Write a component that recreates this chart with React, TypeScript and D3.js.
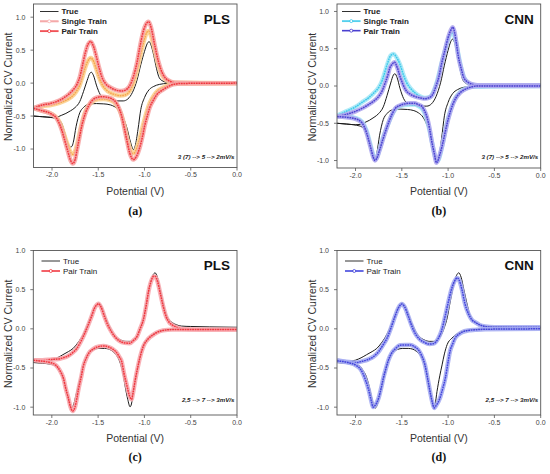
import * as d3 from 'd3';

type Pt = [number, number];

// ---- experiment "3 (7) --> 5 --> 2mV/s" (panels a, b) ----
const true2mV_up: Pt[] = [
  [-2.2, -0.5], [-2.1, -0.51], [-2.0, -0.52], [-1.95, -0.515], [-1.9, -0.49], [-1.85, -0.46],
  [-1.8, -0.42], [-1.75, -0.37], [-1.7, -0.28], [-1.66, -0.13], [-1.62, 0.04], [-1.59, 0.15],
  [-1.575, 0.165], [-1.55, 0.11], [-1.52, -0.03], [-1.48, -0.17], [-1.43, -0.24], [-1.37, -0.26],
  [-1.3, -0.27], [-1.23, -0.27], [-1.18, -0.24], [-1.13, -0.14], [-1.08, 0.05], [-1.04, 0.28],
  [-1.0, 0.48], [-0.97, 0.6], [-0.95, 0.63], [-0.93, 0.58], [-0.9, 0.42], [-0.87, 0.22],
  [-0.84, 0.08], [-0.8, 0.03], [-0.75, 0.01], [-0.6, 0.01], [-0.3, 0.01], [0, 0.01],
];
const true2mV_down: Pt[] = [
  [-2.2, -0.5], [-2.1, -0.51], [-2.02, -0.52], [-1.96, -0.535], [-1.93, -0.55], [-1.895, -0.61],
  [-1.86, -0.76], [-1.83, -0.9], [-1.8, -0.97], [-1.785, -0.96], [-1.77, -0.9], [-1.74, -0.66],
  [-1.7, -0.45], [-1.66, -0.37], [-1.6, -0.32], [-1.52, -0.31], [-1.44, -0.315], [-1.37, -0.33],
  [-1.32, -0.36], [-1.27, -0.42], [-1.23, -0.52], [-1.19, -0.68], [-1.15, -0.9], [-1.12, -1.01],
  [-1.1, -0.95], [-1.07, -0.7], [-1.04, -0.4], [-1.0, -0.22], [-0.95, -0.1], [-0.9, -0.05],
  [-0.84, -0.02], [-0.75, -0.005], [0, 0.0],
];

const plsSingle2mV_up: Pt[] = [
  [-2.2, -0.38], [-2.1, -0.35], [-2.0, -0.33], [-1.92, -0.3], [-1.85, -0.26], [-1.79, -0.21],
  [-1.74, -0.13], [-1.7, -0.03], [-1.67, 0.1], [-1.64, 0.24], [-1.61, 0.34], [-1.58, 0.38],
  [-1.55, 0.33], [-1.52, 0.21], [-1.49, 0.08], [-1.45, -0.04], [-1.4, -0.12], [-1.33, -0.17],
  [-1.26, -0.19], [-1.21, -0.18], [-1.16, -0.12], [-1.12, 0.0], [-1.08, 0.2], [-1.04, 0.45],
  [-1.0, 0.67], [-0.97, 0.78], [-0.955, 0.79], [-0.93, 0.72], [-0.89, 0.5], [-0.85, 0.27],
  [-0.81, 0.12], [-0.77, 0.05], [-0.72, 0.02], [-0.66, 0.005], [0, 0.0],
];
const plsSingle2mV_down: Pt[] = [
  [-2.2, -0.38], [-2.1, -0.42], [-2.0, -0.47], [-1.94, -0.54], [-1.9, -0.65], [-1.86, -0.82],
  [-1.82, -0.98], [-1.79, -1.07], [-1.775, -1.08], [-1.75, -1.03], [-1.72, -0.88], [-1.69, -0.68],
  [-1.65, -0.47], [-1.61, -0.35], [-1.56, -0.28], [-1.5, -0.245], [-1.44, -0.24], [-1.38, -0.255],
  [-1.33, -0.29], [-1.29, -0.36], [-1.25, -0.48], [-1.22, -0.63], [-1.19, -0.82], [-1.16, -0.98],
  [-1.125, -1.07], [-1.1, -1.04], [-1.06, -0.88], [-1.02, -0.66], [-0.98, -0.45], [-0.94, -0.29],
  [-0.9, -0.19], [-0.86, -0.12], [-0.8, -0.07], [-0.74, -0.03], [-0.68, -0.01], [0, 0.0],
];

const plsPair2mV_up: Pt[] = [
  [-2.2, -0.38], [-2.1, -0.33], [-2.02, -0.31], [-1.95, -0.28], [-1.88, -0.23], [-1.82, -0.17],
  [-1.77, -0.1], [-1.73, -0.02], [-1.7, 0.09], [-1.67, 0.27], [-1.64, 0.46], [-1.61, 0.59],
  [-1.58, 0.63], [-1.55, 0.55], [-1.52, 0.4], [-1.49, 0.23], [-1.46, 0.09], [-1.42, -0.01],
  [-1.37, -0.065], [-1.3, -0.11], [-1.25, -0.12], [-1.2, -0.1], [-1.16, -0.04], [-1.12, 0.1],
  [-1.08, 0.32], [-1.05, 0.55], [-1.01, 0.8], [-0.97, 0.92], [-0.955, 0.93], [-0.93, 0.85],
  [-0.89, 0.58], [-0.85, 0.33], [-0.81, 0.16], [-0.77, 0.07], [-0.72, 0.025], [-0.66, 0.005],
  [-0.4, 0.0], [0, 0.0],
];
const plsPair2mV_down: Pt[] = [
  [-2.2, -0.38], [-2.13, -0.41], [-2.02, -0.46], [-1.95, -0.535], [-1.9, -0.69], [-1.86, -0.88],
  [-1.83, -1.03], [-1.8, -1.17], [-1.775, -1.22], [-1.75, -1.16], [-1.73, -1.02], [-1.7, -0.8],
  [-1.68, -0.66], [-1.64, -0.46], [-1.61, -0.36], [-1.57, -0.27], [-1.52, -0.22], [-1.46, -0.205],
  [-1.4, -0.215], [-1.35, -0.24], [-1.3, -0.31], [-1.27, -0.4], [-1.245, -0.51], [-1.22, -0.67],
  [-1.19, -0.87], [-1.16, -1.06], [-1.12, -1.16], [-1.09, -1.12], [-1.05, -0.97], [-1.02, -0.8],
  [-1.0, -0.66], [-0.97, -0.5], [-0.94, -0.36], [-0.9, -0.25], [-0.87, -0.18], [-0.8, -0.1],
  [-0.74, -0.05], [-0.69, -0.02], [-0.6, -0.005], [0, 0.0],
];

const cnnSingle2mV_up: Pt[] = [
  [-2.2, -0.4], [-2.1, -0.34], [-2.0, -0.28], [-1.93, -0.22], [-1.86, -0.16], [-1.8, -0.09],
  [-1.75, -0.02], [-1.71, 0.08], [-1.68, 0.2], [-1.65, 0.32], [-1.62, 0.41], [-1.59, 0.43],
  [-1.56, 0.39], [-1.52, 0.29], [-1.48, 0.14], [-1.45, 0.05], [-1.4, -0.04], [-1.36, -0.09],
  [-1.3, -0.14], [-1.25, -0.16], [-1.2, -0.15], [-1.16, -0.08], [-1.12, 0.06], [-1.08, 0.26],
  [-1.04, 0.45], [-1.0, 0.62], [-0.97, 0.7], [-0.95, 0.71], [-0.92, 0.62], [-0.89, 0.43],
  [-0.86, 0.25], [-0.83, 0.12], [-0.79, 0.05], [-0.74, 0.02], [-0.68, 0.01], [0, 0.01],
];
const cnnSingle2mV_down: Pt[] = [
  [-2.2, -0.4], [-2.1, -0.41], [-2.0, -0.43], [-1.93, -0.48], [-1.88, -0.6], [-1.84, -0.78],
  [-1.81, -0.92], [-1.79, -0.98], [-1.77, -0.96], [-1.74, -0.85], [-1.7, -0.68], [-1.66, -0.55],
  [-1.61, -0.4], [-1.57, -0.31], [-1.52, -0.27], [-1.47, -0.255], [-1.41, -0.25], [-1.36, -0.25],
  [-1.32, -0.27], [-1.285, -0.3], [-1.26, -0.35], [-1.23, -0.45], [-1.2, -0.6], [-1.17, -0.78],
  [-1.145, -0.93], [-1.12, -1.01], [-1.1, -0.98], [-1.07, -0.84], [-1.04, -0.66], [-1.01, -0.48],
  [-0.98, -0.35], [-0.95, -0.24], [-0.92, -0.16], [-0.87, -0.08], [-0.8, -0.03], [-0.74, -0.01],
  [0, 0.0],
];

const cnnPair2mV_up: Pt[] = [
  [-2.2, -0.41], [-2.1, -0.38], [-2.0, -0.34], [-1.93, -0.3], [-1.86, -0.25], [-1.8, -0.2],
  [-1.75, -0.14], [-1.71, -0.06], [-1.68, 0.04], [-1.65, 0.15], [-1.63, 0.24], [-1.6, 0.3],
  [-1.58, 0.32], [-1.55, 0.25], [-1.52, 0.13], [-1.49, 0.03], [-1.46, -0.05], [-1.41, -0.11],
  [-1.36, -0.14], [-1.3, -0.16], [-1.25, -0.17], [-1.2, -0.155], [-1.17, -0.12], [-1.13, 0.0],
  [-1.1, 0.12], [-1.07, 0.3], [-1.03, 0.5], [-1.0, 0.65], [-0.97, 0.75], [-0.95, 0.79],
  [-0.93, 0.72], [-0.91, 0.57], [-0.89, 0.4], [-0.86, 0.24], [-0.83, 0.11], [-0.78, 0.045],
  [-0.72, 0.018], [-0.65, 0.01], [0, 0.01],
];
const cnnPair2mV_down: Pt[] = [
  [-2.2, -0.41], [-2.1, -0.42], [-2.0, -0.44], [-1.93, -0.495], [-1.88, -0.63], [-1.84, -0.81],
  [-1.81, -0.95], [-1.79, -1.0], [-1.77, -0.97], [-1.74, -0.86], [-1.7, -0.7], [-1.66, -0.55],
  [-1.61, -0.39], [-1.57, -0.3], [-1.52, -0.26], [-1.47, -0.24], [-1.41, -0.23], [-1.36, -0.23],
  [-1.32, -0.25], [-1.285, -0.27], [-1.26, -0.32], [-1.23, -0.41], [-1.2, -0.57], [-1.18, -0.72],
  [-1.15, -0.9], [-1.125, -1.03], [-1.09, -0.92], [-1.06, -0.78], [-1.03, -0.61], [-1.0, -0.45],
  [-0.98, -0.36], [-0.95, -0.25], [-0.92, -0.17], [-0.87, -0.09], [-0.8, -0.035], [-0.75, -0.013],
  [-0.68, 0.0], [0, 0.0],
];

// ---- experiment "2,5 --> 7 --> 3mV/s" (panels c, d) ----
const true3mV_up: Pt[] = [
  [-2.2, -0.43], [-2.1, -0.42], [-2.0, -0.4], [-1.94, -0.37], [-1.88, -0.33], [-1.82, -0.29],
  [-1.77, -0.25], [-1.72, -0.18], [-1.68, -0.11], [-1.64, -0.02], [-1.6, 0.09], [-1.57, 0.18],
  [-1.54, 0.27], [-1.51, 0.32], [-1.495, 0.33], [-1.47, 0.3], [-1.44, 0.22], [-1.41, 0.12],
  [-1.38, 0.04], [-1.35, -0.035], [-1.31, -0.1], [-1.26, -0.14], [-1.2, -0.16], [-1.15, -0.16],
  [-1.11, -0.13], [-1.08, -0.09], [-1.04, 0.02], [-1.01, 0.14], [-0.98, 0.33], [-0.94, 0.56],
  [-0.91, 0.68], [-0.885, 0.715], [-0.86, 0.66], [-0.83, 0.5], [-0.8, 0.34], [-0.77, 0.2],
  [-0.73, 0.11], [-0.7, 0.08], [-0.65, 0.05], [-0.6, 0.035], [-0.5, 0.03], [-0.3, 0.025], [0, 0.02],
];
const true3mV_down: Pt[] = [
  [-2.2, -0.43], [-2.1, -0.44], [-2.02, -0.45], [-1.95, -0.48], [-1.92, -0.53], [-1.89, -0.59],
  [-1.86, -0.7], [-1.84, -0.8], [-1.81, -0.95], [-1.785, -1.01], [-1.76, -0.95], [-1.74, -0.85],
  [-1.71, -0.71], [-1.68, -0.56], [-1.66, -0.46], [-1.63, -0.37], [-1.6, -0.305], [-1.55, -0.265],
  [-1.49, -0.25], [-1.43, -0.25], [-1.38, -0.26], [-1.34, -0.29], [-1.3, -0.34], [-1.26, -0.44],
  [-1.23, -0.58], [-1.21, -0.72], [-1.18, -0.9], [-1.155, -0.995], [-1.14, -0.96], [-1.12, -0.8],
  [-1.09, -0.6], [-1.065, -0.46], [-1.04, -0.32], [-1.01, -0.2], [-0.96, -0.12], [-0.91, -0.07],
  [-0.86, -0.04], [-0.78, -0.015], [-0.7, -0.005], [0, 0.0],
];

const plsPair3mV_up: Pt[] = [
  [-2.2, -0.4], [-2.1, -0.4], [-2.0, -0.39], [-1.93, -0.385], [-1.88, -0.37], [-1.84, -0.355],
  [-1.78, -0.31], [-1.73, -0.25], [-1.69, -0.17], [-1.66, -0.1], [-1.62, 0.01], [-1.57, 0.16],
  [-1.54, 0.26], [-1.51, 0.31], [-1.495, 0.32], [-1.47, 0.28], [-1.43, 0.15], [-1.4, 0.06],
  [-1.36, -0.03], [-1.32, -0.1], [-1.27, -0.155], [-1.21, -0.18], [-1.16, -0.185], [-1.12, -0.15],
  [-1.08, -0.1], [-1.05, -0.01], [-1.01, 0.12], [-0.98, 0.3], [-0.955, 0.48], [-0.93, 0.6],
  [-0.9, 0.67], [-0.885, 0.67], [-0.86, 0.61], [-0.83, 0.46], [-0.8, 0.3], [-0.77, 0.17],
  [-0.73, 0.08], [-0.7, 0.05], [-0.65, 0.02], [-0.6, 0.0], [-0.4, -0.01], [0, -0.01],
];
const plsPair3mV_down: Pt[] = [
  [-2.2, -0.4], [-2.13, -0.41], [-2.02, -0.43], [-1.96, -0.46], [-1.93, -0.5], [-1.9, -0.56],
  [-1.875, -0.63], [-1.85, -0.76], [-1.82, -0.89], [-1.8, -0.99], [-1.775, -1.05], [-1.75, -1.0],
  [-1.73, -0.89], [-1.71, -0.76], [-1.68, -0.6], [-1.66, -0.48], [-1.63, -0.38], [-1.6, -0.31],
  [-1.55, -0.255], [-1.49, -0.225], [-1.44, -0.218], [-1.38, -0.235], [-1.34, -0.26], [-1.31, -0.29],
  [-1.27, -0.36], [-1.245, -0.42], [-1.22, -0.57], [-1.19, -0.72], [-1.16, -0.86], [-1.14, -0.9],
  [-1.12, -0.8], [-1.1, -0.66], [-1.07, -0.48], [-1.04, -0.33], [-1.01, -0.22], [-0.96, -0.13],
  [-0.91, -0.08], [-0.87, -0.05], [-0.8, -0.02], [-0.7, -0.01], [0, -0.01],
];

const cnnPair3mV_up: Pt[] = [
  [-2.2, -0.4], [-2.1, -0.42], [-2.0, -0.43], [-1.93, -0.415], [-1.86, -0.39], [-1.8, -0.35],
  [-1.75, -0.29], [-1.7, -0.2], [-1.66, -0.12], [-1.62, 0.0], [-1.57, 0.17], [-1.54, 0.26],
  [-1.51, 0.31], [-1.5, 0.317], [-1.47, 0.28], [-1.43, 0.16], [-1.4, 0.06], [-1.36, -0.05],
  [-1.31, -0.13], [-1.26, -0.17], [-1.2, -0.195], [-1.16, -0.19], [-1.11, -0.13], [-1.07, -0.02],
  [-1.03, 0.17], [-1.0, 0.33], [-0.96, 0.52], [-0.93, 0.61], [-0.9, 0.65], [-0.88, 0.62],
  [-0.85, 0.5], [-0.82, 0.33], [-0.78, 0.19], [-0.74, 0.11], [-0.71, 0.085], [-0.66, 0.05],
  [-0.6, 0.03], [-0.5, 0.02], [0, 0.02],
];
const cnnPair3mV_down: Pt[] = [
  [-2.2, -0.41], [-2.08, -0.43], [-1.99, -0.47], [-1.95, -0.51], [-1.92, -0.57], [-1.89, -0.66],
  [-1.86, -0.77], [-1.83, -0.92], [-1.81, -1.0], [-1.79, -0.98], [-1.77, -0.94], [-1.75, -0.88],
  [-1.72, -0.74], [-1.7, -0.63], [-1.67, -0.5], [-1.645, -0.4], [-1.61, -0.31], [-1.57, -0.255],
  [-1.52, -0.21], [-1.46, -0.205], [-1.41, -0.205], [-1.36, -0.23], [-1.32, -0.27], [-1.29, -0.33],
  [-1.25, -0.46], [-1.22, -0.64], [-1.195, -0.8], [-1.17, -0.94], [-1.15, -1.01], [-1.13, -0.98],
  [-1.09, -0.89], [-1.06, -0.77], [-1.03, -0.63], [-1.0, -0.42], [-0.98, -0.29], [-0.95, -0.19],
  [-0.925, -0.12], [-0.88, -0.065], [-0.85, -0.043], [-0.78, -0.02], [-0.71, -0.013],
  [-0.6, -0.005], [0, 0.0],
];

const xTicks = [-2.0, -1.5, -1.0, -0.5, 0.0];
const yTicks = [-1.0, -0.5, 0.0, 0.5, 1.0];

const FONT = 'Liberation Sans, Arial, Helvetica, sans-serif';

interface Series {
  name: string;
  up: Pt[];
  down: Pt[];
  color: string;
  halo?: string;
  swatch?: string;
}

interface PanelCfg {
  left: number;
  right: number;
  top: number;
  bottom: number;
  yDomain: [number, number];
  series: Series[];
  boldLegend: boolean;
  legendX: number;
  legendY: number;
  legendGap: number;
  method: string;
  methodY: number;
  note: string;
  noteY: number;
  caption: string;
  captionY: number;
}

const panels: PanelCfg[] = [
  {
    left: 33.5, right: 237, top: 4, bottom: 167.5, yDomain: [-1.28, 1.2],
    series: [
      { name: 'True', up: true2mV_up, down: true2mV_down, color: '#1a1a1a' },
      { name: 'Single Train', up: plsSingle2mV_up, down: plsSingle2mV_down, color: '#f59a3c', halo: '#fbd090', swatch: '#f5a9a9' },
      { name: 'Pair Train', up: plsPair2mV_up, down: plsPair2mV_down, color: '#ee1c24', halo: '#f6a6a6' },
    ],
    boldLegend: true, legendX: 40, legendY: 11.5, legendGap: 9.8,
    method: 'PLS', methodY: 24, note: '3 (7) --> 5 --> 2mV/s', noteY: 158.5,
    caption: '(a)', captionY: 215,
  },
  {
    left: 337, right: 540.7, top: 4, bottom: 168, yDomain: [-1.1, 1.1],
    series: [
      { name: 'True', up: true2mV_up, down: true2mV_down, color: '#1a1a1a' },
      { name: 'Single Train', up: cnnSingle2mV_up, down: cnnSingle2mV_down, color: '#22c0e8', halo: '#a6e8f6' },
      { name: 'Pair Train', up: cnnPair2mV_up, down: cnnPair2mV_down, color: '#3328c8', halo: '#b0a8ee' },
    ],
    boldLegend: true, legendX: 342, legendY: 11.5, legendGap: 9.6,
    method: 'CNN', methodY: 24, note: '3 (7) --> 5 --> 2mV/s', noteY: 158.5,
    caption: '(b)', captionY: 215,
  },
  {
    left: 33.3, right: 237, top: 250.5, bottom: 415, yDomain: [-1.1, 1.0],
    series: [
      { name: 'True', up: true3mV_up, down: true3mV_down, color: '#1a1a1a' },
      { name: 'Pair Train', up: plsPair3mV_up, down: plsPair3mV_down, color: '#f01c24', halo: '#f7a8ae' },
    ],
    boldLegend: false, legendX: 41.5, legendY: 261, legendGap: 10,
    method: 'PLS', methodY: 270, note: '2,5 --> 7 --> 3mV/s', noteY: 401.5,
    caption: '(c)', captionY: 461,
  },
  {
    left: 337, right: 540.7, top: 250.5, bottom: 415, yDomain: [-1.1, 1.0],
    series: [
      { name: 'True', up: true3mV_up, down: true3mV_down, color: '#1a1a1a' },
      { name: 'Pair Train', up: cnnPair3mV_up, down: cnnPair3mV_down, color: '#2b2bd6', halo: '#a6adf2' },
    ],
    boldLegend: false, legendX: 345, legendY: 261, legendGap: 10,
    method: 'CNN', methodY: 270, note: '2,5 --> 7 --> 3mV/s', noteY: 401.5,
    caption: '(d)', captionY: 461,
  },
];

function Panel({ p, idx }: { p: PanelCfg; idx: number }) {
  const x = d3.scaleLinear().domain([-2.2, 0]).range([p.left, p.right]);
  const y = d3.scaleLinear().domain(p.yDomain).range([p.bottom, p.top]);
  const line = d3.line<Pt>().x(d => x(d[0])).y(d => y(d[1])).curve(d3.curveMonotoneX);
  const clipId = `clip-${idx}`;
  const cx = (p.left + p.right) / 2;
  const cy = (p.top + p.bottom) / 2;

  return (
    <g>
      <defs>
        <clipPath id={clipId}>
          <rect x={p.left} y={p.top} width={p.right - p.left} height={p.bottom - p.top} />
        </clipPath>
      </defs>

      {/* curves: predictions drawn as a marker-like band */}
      <g clipPath={`url(#${clipId})`}>
        {p.series.map(s => (
          <g key={s.name}>
            {[s.up, s.down].map((branch, i) => (
              <g key={i}>
                {s.halo && (
                  <path d={line(branch) || ''} fill="none" stroke={s.halo} strokeWidth={4.4}
                    strokeOpacity={0.9} strokeLinejoin="round" />
                )}
                <path d={line(branch) || ''} fill="none" stroke={s.color}
                  strokeWidth={s.halo ? 1.5 : 1} strokeOpacity={s.halo ? 0.8 : 1}
                  strokeDasharray={s.halo ? '1.8 0.7' : undefined} />
              </g>
            ))}
          </g>
        ))}
      </g>

      {/* frame */}
      <rect x={p.left} y={p.top} width={p.right - p.left} height={p.bottom - p.top}
        fill="none" stroke="#555" strokeWidth={0.9} />

      {/* x axis */}
      {xTicks.map(t => (
        <g key={`x${t}`}>
          <line x1={x(t)} x2={x(t)} y1={p.bottom} y2={p.bottom + 3} stroke="#555" strokeWidth={0.8} />
          <text x={x(t)} y={p.bottom + 9.5} textAnchor="middle" fontSize={7} fill="#444" fontFamily={FONT}>
            {t.toFixed(1)}
          </text>
        </g>
      ))}
      {/* y axis */}
      {yTicks.map(t => (
        <g key={`y${t}`}>
          <line x1={p.left - 3} x2={p.left} y1={y(t)} y2={y(t)} stroke="#555" strokeWidth={0.8} />
          <text x={p.left - 8} y={y(t)} dy="0.35em" textAnchor="end" fontSize={7} fill="#444" fontFamily={FONT}>
            {t.toFixed(1)}
          </text>
        </g>
      ))}

      <text x={cx} y={p.bottom + 27} textAnchor="middle" fontSize={10.5} fill="#333" fontFamily={FONT}>
        Potential (V)
      </text>
      <text transform={`translate(${p.left - 21.5},${cy + 1}) rotate(-90)`} textAnchor="middle"
        fontSize={10.5} fill="#333" fontFamily={FONT}>
        Normalized CV Current
      </text>

      {/* legend */}
      {p.series.map((s, i) => {
        const ly = p.legendY + i * p.legendGap;
        const x0 = p.legendX;
        const x1 = p.legendX + 18.5;
        const c = s.swatch || s.color;
        return (
          <g key={`lg${s.name}`}>
            {s.halo && <line x1={x0} x2={x1} y1={ly} y2={ly} stroke={s.swatch || s.halo} strokeWidth={2} />}
            <line x1={x0} x2={x1} y1={ly} y2={ly} stroke={c} strokeWidth={s.halo ? 1 : 0.9} />
            {s.halo && <circle cx={(x0 + x1) / 2} cy={ly} r={1.5} fill="#fff" stroke={c} strokeWidth={0.7} />}
            <text x={x1 + 3} y={ly} dy="0.35em" fontSize={8} fontWeight={p.boldLegend ? 'bold' : 'normal'}
              fill="#222" fontFamily={FONT}>
              {s.name}
            </text>
          </g>
        );
      })}

      <text x={p.right - 7} y={p.methodY} textAnchor="end" fontSize={13.5} fontWeight="bold"
        fill="#111" fontFamily={FONT}>
        {p.method}
      </text>
      <text x={p.right - 2.5} y={p.noteY} textAnchor="end" fontSize={6.2} fontWeight="bold"
        fontStyle="italic" fill="#222" fontFamily={FONT}>
        {p.note}
      </text>

      <text x={cx} y={p.captionY} textAnchor="middle" fontSize={12} fontWeight="bold" fill="#111"
        fontFamily="Liberation Serif, Times New Roman, serif">
        {p.caption}
      </text>
    </g>
  );
}

export default function App() {
  return (
    <svg width={550} height={474} style={{ position: 'absolute', left: 0, top: 0 }}>
      <rect width={550} height={474} fill="#fff" />
      {panels.map((p, i) => <Panel key={i} p={p} idx={i} />)}
    </svg>
  );
}
